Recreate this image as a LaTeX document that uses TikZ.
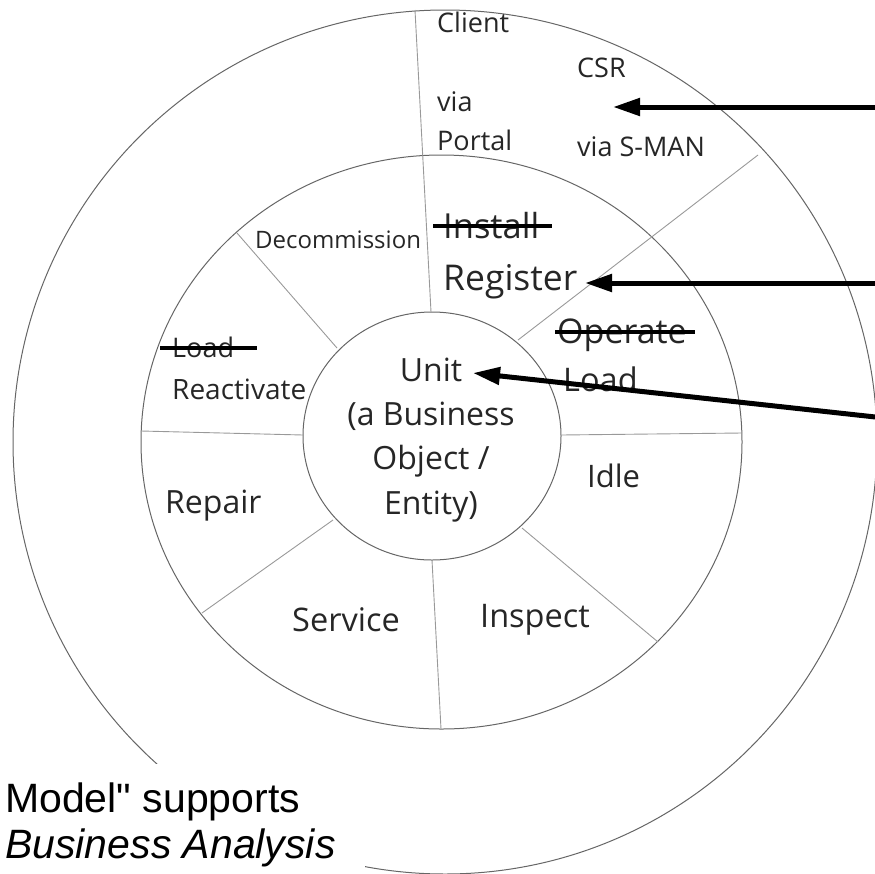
\documentclass[tikz,border=0pt]{standalone}
\usepackage{fontspec}
\setmainfont{Open Sans}
\newfontfamily\capfont{Liberation Sans}
\usetikzlibrary{arrows.meta}
\tikzset{
  ring/.style={draw=black!60, line width=1pt},
  divider/.style={draw=black!40, line width=0.9pt},
  lbl/.style={anchor=base west, inner sep=0pt, text=black!85},
  strike/.style={draw=black, line width=4pt},
  pointer/.style={draw=black, line width=5pt, -{Triangle[length=27pt,width=17pt]}},
  f/.style={font=\fontsize{#1}{#1}\selectfont}
}
\begin{document}
\begin{tikzpicture}[x=1pt,y=-1pt]
\useasboundingbox (0,0) rectangle (875,873);
% rings
\draw[ring] (445,442) circle [radius=432];
\draw[ring] (441.5,442) ellipse [x radius=300.5, y radius=287];
\draw[ring] (432,436) ellipse [x radius=129, y radius=124];
% divider end points
\coordinate (dT1) at (415,10);   \coordinate (dT2) at (431,312);
\coordinate (dR1) at (758,155);  \coordinate (dR2) at (518,340);
\coordinate (dD1) at (237,233);  \coordinate (dD2) at (337,348);
\coordinate (dL1) at (141,431);  \coordinate (dL2) at (303,435);
\coordinate (dE1) at (742,433);  \coordinate (dE2) at (561,435);
\coordinate (dS1) at (202,613);  \coordinate (dS2) at (333,520);
\coordinate (dB1) at (441,729);  \coordinate (dB2) at (432,560);
\coordinate (dI1) at (658,642);  \coordinate (dI2) at (522,528);
\draw[divider] (dT1) -- (dT2);
\draw[divider] (dR1) -- (dR2);
\draw[divider] (dD1) -- (dD2);
\draw[divider] (dL1) -- (dL2);
\draw[divider] (dE1) -- (dE2);
\draw[divider] (dS1) -- (dS2);
\draw[divider] (dB1) -- (dB2);
\draw[divider] (dI1) -- (dI2);
% outer ring texts
\node[lbl,f=27] (client) at (437,32) {Client};
\node[lbl,f=27] (via) at (437,111) {via};
\node[lbl,f=27] (portal) at (437,150) {Portal};
\node[lbl,f=27] (csr) at (577,77) {CSR};
\node[lbl,f=27] (sman) at (577,156) {via S-MAN};
% middle ring texts
\node[lbl,f=24] (decom) at (255,248) {Decommission};
\node[lbl,f=34.5] (install) at (443,238) {Install};
\node[lbl,f=35.5] (register) at (443,290) {Register};
\node[lbl,f=34] (operate) at (557,343) {Operate};
\node[lbl,f=32.5] (loadr) at (563,391) {Load};
\node[lbl,f=27] (loadl) at (172,357) {Load};
\node[lbl,f=28] (react) at (172,399) {Reactivate};
\node[lbl,f=31] (idle) at (587,487) {Idle};
\node[lbl,f=32] (repair) at (165,513) {Repair};
\node[lbl,f=32.5] (service) at (292,631) {Service};
\node[lbl,f=32.5] (inspect) at (480,627) {Inspect};
% centre
\node[anchor=north, inner sep=0pt, align=center, text=black!85,
      font=\fontsize{32}{44.3}\selectfont] (unit) at (431,357.5)
      {Unit\\(a Business\\Object /\\Entity)};
% strike-throughs
\coordinate (sI1) at (433,226); \coordinate (sI2) at (552,226);
\coordinate (sO1) at (555,332); \coordinate (sO2) at (695,332);
\coordinate (sL1) at (160,348); \coordinate (sL2) at (257,348);
\draw[strike] (sI1) -- (sI2);
\draw[strike] (sO1) -- (sO2);
\draw[strike] (sL1) -- (sL2);
% pointers
\coordinate (a1s) at (880,107);   \coordinate (a1e) at (613,107);
\coordinate (a2s) at (880,283);   \coordinate (a2e) at (585,283);
\coordinate (a3s) at (880,417.5); \coordinate (a3e) at (473,373);
\draw[pointer] (a1s) -- (a1e);
\draw[pointer] (a2s) -- (a2e);
\draw[pointer] (a3s) -- (a3e);
% caption covering the lower left
\fill[white] (0,764) rectangle (365,880);
\node[lbl,text=black,font=\capfont\fontsize{41}{41}\selectfont] (cap1) at (5,812) {Model" supports};
\node[lbl,text=black,font=\capfont\itshape\fontsize{41}{41}\selectfont] (cap2) at (5,858) {Business Analysis};
\end{tikzpicture}
\end{document}
